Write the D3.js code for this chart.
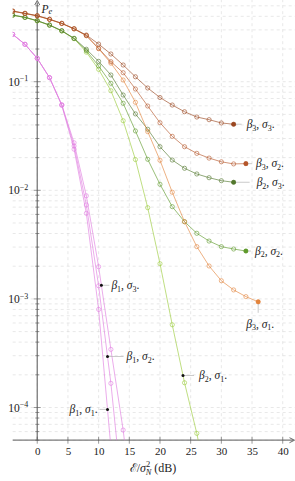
<!DOCTYPE html>
<meta charset="utf-8">
<style>
body { margin: 0; background: #fff; }
svg text { font-family: "Liberation Serif", "DejaVu Serif", serif; fill: #222; }
.grid line { stroke: #d9d9d9; stroke-width: 0.6; stroke-dasharray: 3,3; }
.axis path, .axis line { stroke: none; }
</style>
<body>
<script src="https://cdn.jsdelivr.net/npm/d3@7"></script>
<script>

// SNR points (dB), every series starts at -4 dB with a 2 dB step
var snrStart = -4, snrStep = 2;

// error probability
var b3s3 = [0.448, 0.427, 0.406, 0.376, 0.345, 0.308, 0.269, 0.222, 0.180, 0.1425, 0.111, 0.0875, 0.0715, 0.0610, 0.0529, 0.0473, 0.0447, 0.0417, 0.0406];
var b3s2 = [0.446, 0.425, 0.404, 0.375, 0.344, 0.307, 0.266, 0.203, 0.153, 0.121, 0.0857, 0.0597, 0.0419, 0.0314, 0.0252, 0.0219, 0.0198, 0.0183, 0.0175, 0.0176];
var b3s1 = [0.445, 0.424, 0.403, 0.374, 0.343, 0.306, 0.265, 0.201, 0.148, 0.1037, 0.0646, 0.0347, 0.0189, 0.0096, 0.00514, 0.00303, 0.00201, 0.00147, 0.00121, 0.00105, 0.00094];
var b2s3 = [0.411, 0.392, 0.365, 0.333, 0.295, 0.251, 0.199, 0.154, 0.1153, 0.0754, 0.0505, 0.0365, 0.0252, 0.0190, 0.01595, 0.01414, 0.01306, 0.01226, 0.01186];
var b2s2 = [0.410, 0.391, 0.364, 0.332, 0.294, 0.250, 0.193, 0.1395, 0.0967, 0.0633, 0.0352, 0.0193, 0.01136, 0.00707, 0.00514, 0.00402, 0.00341, 0.00303, 0.00288, 0.00276];
var b2s1 = [0.409, 0.390, 0.363, 0.331, 0.293, 0.249, 0.187, 0.130, 0.0826, 0.0437, 0.0192, 0.00692, 0.00211, 0.000578, 0.000169, 0.0000578, 0.000016];
var b1s3 = [0.273, 0.221, 0.164, 0.109, 0.0614, 0.0274, 0.00891, 0.00198, 0.000343, 0.000062, 0.000007];
var b1s2 = [0.273, 0.221, 0.164, 0.109, 0.0610, 0.0256, 0.00733, 0.00132, 0.000167, 0.000013];
var b1s1 = [0.273, 0.221, 0.164, 0.109, 0.0606, 0.0239, 0.00614, 0.00080, 0.000043];

var xTicks = [0, 5, 10, 15, 20, 25, 30, 35, 40];
var yTicks = [1e-4, 1e-3, 1e-2, 1e-1];

var series = [
  {b: "1", s: "1", data: b1s1, color: "#e07ce0"},
  {b: "1", s: "2", data: b1s2, color: "#e07ce0"},
  {b: "1", s: "3", data: b1s3, color: "#e07ce0"},
  {b: "2", s: "1", data: b2s1, color: "#9acb3a"},
  {b: "2", s: "2", data: b2s2, color: "#5f9a2c"},
  {b: "2", s: "3", data: b2s3, color: "#52772d"},
  {b: "3", s: "1", data: b3s1, color: "#e3843c"},
  {b: "3", s: "2", data: b3s2, color: "#b5562a"},
  {b: "3", s: "3", data: b3s3, color: "#9a4720"}
];

// label pins: where the dot sits (dB, or the last point) and where the text goes
var pins = [
  {k: "3,3", at: null, dir: "right", len: 8,  gap: 13},
  {k: "3,2", at: null, dir: "right", len: 6,  gap: 10},
  {k: "2,3", at: null, dir: "right", len: 16, gap: 23},
  {k: "2,2", at: null, dir: "right", len: 5,  gap: 9},
  {k: "3,1", at: null, dir: "down",  len: 11, gap: 22},
  {k: "2,1", at: 23.75, dir: "right", len: 11, gap: 16},
  {k: "1,3", at: 10.45, dir: "right", len: 8,  gap: 10},
  {k: "1,2", at: 11.45, dir: "right", len: 16, gap: 19},
  {k: "1,1", at: 11.45, dir: "left",  len: 8,  gap: 10}
];

var width = 295, height = 481;

var x = d3.scaleLinear().domain([-4, 42]).range([12.7, 295]);
var y = d3.scaleLog().domain([5e-5, 0.5]).range([440.2, 5.8]);

var svg = d3.select("body").append("svg")
    .attr("width", width)
    .attr("height", height);

svg.append("defs").append("clipPath").attr("id", "clip")
  .append("rect")
    .attr("x", x.range()[0]).attr("y", 0)
    .attr("width", x.range()[1] - x.range()[0])
    .attr("height", y.range()[0]);

// grid
var grid = svg.append("g").attr("class", "grid");
grid.selectAll(".gy")
    .data(y.ticks())
  .enter().append("line")
    .attr("x1", x.range()[0]).attr("x2", x.range()[1])
    .attr("y1", function(d) { return y(d); })
    .attr("y2", function(d) { return y(d); });
grid.selectAll(".gx")
    .data(xTicks)
  .enter().append("line")
    .attr("x1", function(d) { return x(d); })
    .attr("x2", function(d) { return x(d); })
    .attr("y1", y.range()[0]).attr("y2", 0);

// axes lines with arrows
var axisColor = "#7a7a7a";
var x0 = x(0), yb = y.range()[0];
svg.append("line")
    .attr("x1", x.range()[0]).attr("x2", 293)
    .attr("y1", yb).attr("y2", yb)
    .attr("stroke", axisColor).attr("stroke-width", 1.3);
svg.append("path")
    .attr("d", "M289.5," + (yb - 2.5) + "L294.5," + yb + "L289.5," + (yb + 2.5))
    .attr("fill", "none").attr("stroke", "#444").attr("stroke-width", 0.8);
svg.append("line")
    .attr("x1", x0).attr("x2", x0)
    .attr("y1", yb).attr("y2", 2.5)
    .attr("stroke", axisColor).attr("stroke-width", 1.3);
svg.append("path")
    .attr("d", "M" + (x0 - 2.5) + ",5L" + x0 + ",0.5L" + (x0 + 2.5) + ",5")
    .attr("fill", "none").attr("stroke", "#444").attr("stroke-width", 0.8);

// ticks on the axis lines
svg.append("g").selectAll("line")
    .data(y.ticks())
  .enter().append("line")
    .attr("x1", function(d) { return x0 - (yTicks.indexOf(d) >= 0 ? 3.5 : 2); })
    .attr("x2", function(d) { return x0 + (yTicks.indexOf(d) >= 0 ? 3.5 : 2); })
    .attr("y1", function(d) { return y(d); })
    .attr("y2", function(d) { return y(d); })
    .attr("stroke", "#555").attr("stroke-width", 0.6);
svg.append("g").selectAll("line")
    .data(xTicks)
  .enter().append("line")
    .attr("x1", function(d) { return x(d); })
    .attr("x2", function(d) { return x(d); })
    .attr("y1", yb - 3.5).attr("y2", yb + 3.5)
    .attr("stroke", "#555").attr("stroke-width", 0.6);

// tick labels via d3 axes
var gx = svg.append("g").attr("class", "axis")
    .attr("transform", "translate(0," + yb + ")")
    .call(d3.axisBottom(x).tickValues(xTicks).tickSize(0).tickPadding(7).tickFormat(d3.format("d")));
gx.selectAll("text").attr("font-size", 11).attr("fill", "#222");

var gy = svg.append("g").attr("class", "axis")
    .attr("transform", "translate(" + x0 + ",0)")
    .call(d3.axisLeft(y).tickValues(yTicks).tickSize(0).tickPadding(9).tickFormat(""));
gy.selectAll(".tick text")
    .attr("font-size", 11.5)
    .each(function(d) {
      var t = d3.select(this);
      t.append("tspan").text("10");
      t.append("tspan").attr("dy", -4.5).attr("font-size", 8)
        .text("\u2212" + Math.round(-Math.log10(d)));
    });

// curves
var line = d3.line()
    .x(function(d) { return x(d[0]); })
    .y(function(d) { return y(d[1]); });

var plot = svg.append("g").attr("clip-path", "url(#clip)");

series.forEach(function(s) {
  s.pts = s.data.map(function(v, i) { return [snrStart + i * snrStep, v]; });
  var g = plot.append("g");
  g.append("path")
      .attr("d", line(s.pts))
      .attr("fill", "none")
      .attr("stroke", s.color)
      .attr("stroke-opacity", 0.8)
      .attr("stroke-width", 0.8);
  g.selectAll("circle")
      .data(s.pts)
    .enter().append("circle")
      .attr("cx", function(d) { return x(d[0]); })
      .attr("cy", function(d) { return y(d[1]); })
      .attr("r", 2.1)
      .attr("fill", "none")
      .attr("stroke", s.color)
      .attr("stroke-opacity", 0.85)
      .attr("stroke-width", 0.7);
});

function findSeries(k) {
  var p = k.split(",");
  return series.filter(function(s) { return s.b === p[0] && s.s === p[1]; })[0];
}

// value on the curve at snr v (straight segments in log space)
function valueAt(s, v) {
  for (var i = 1; i < s.pts.length; i++) {
    var a = s.pts[i - 1], b = s.pts[i];
    if (v <= b[0]) {
      var t = (v - a[0]) / (b[0] - a[0]);
      return Math.pow(10, Math.log10(a[1]) + t * (Math.log10(b[1]) - Math.log10(a[1])));
    }
  }
  return s.pts[s.pts.length - 1][1];
}

function mathLabel(t, b, sg) {
  t.append("tspan").attr("font-style", "italic").text("\u03b2");
  t.append("tspan").attr("font-size", 8).attr("dy", 2.5).text(b);
  t.append("tspan").attr("dy", -2.5).text(", ");
  t.append("tspan").attr("font-style", "italic").text("\u03c3");
  t.append("tspan").attr("font-size", 8).attr("dy", 2.5).text(sg);
  t.append("tspan").attr("dy", -2.5).text(".");
}

var lab = svg.append("g");
pins.forEach(function(p) {
  var s = findSeries(p.k);
  var end = s.pts[s.pts.length - 1];
  var px, py, dotColor;
  if (p.at === null) {
    px = x(end[0]); py = y(end[1]); dotColor = s.color;
  } else {
    px = x(p.at); py = y(valueAt(s, p.at)); dotColor = "#111";
  }
  var lx = px, ly = py, tx = px, ty = py + 3.8, anchor = "start";
  if (p.dir === "right") { lx = px + p.len; tx = px + p.gap; }
  if (p.dir === "left") { lx = px - p.len; tx = px - p.gap; anchor = "end"; }
  if (p.dir === "down") { ly = py + p.len; ty = py + p.gap + 3.8; anchor = "middle"; tx = px + 2; }
  lab.append("line")
      .attr("x1", px).attr("y1", py).attr("x2", lx).attr("y2", ly)
      .attr("stroke", "#b5b5b5").attr("stroke-width", 0.7);
  lab.append("circle")
      .attr("cx", px).attr("cy", py)
      .attr("r", p.at === null ? 2.3 : 1.5)
      .attr("fill", dotColor);
  var t = lab.append("text")
      .attr("x", tx).attr("y", ty)
      .attr("text-anchor", anchor)
      .attr("font-size", 11.5)
      .attr("fill", "#333");
  mathLabel(t, s.b, s.s);
});

// axis titles
var pe = svg.append("text").attr("x", 41.5).attr("y", 12.5).attr("font-size", 11.5);
pe.append("tspan").attr("font-style", "italic").text("P");
pe.append("tspan").attr("font-style", "italic").attr("font-size", 8.5).attr("dy", 1.8).text("e");

var xl = svg.append("text").attr("x", 153).attr("y", 472)
    .attr("text-anchor", "middle").attr("font-size", 12);
xl.append("tspan").text("\u2130/");
xl.append("tspan").attr("font-style", "italic").text("\u03c3");
xl.append("tspan").attr("font-size", 8.5).attr("dy", -5).text("2");
xl.append("tspan").attr("font-size", 8.5).attr("font-style", "italic").attr("dx", -4.5).attr("dy", 8).text("N");
xl.append("tspan").attr("dy", -3).text(" (dB)");

</script>
